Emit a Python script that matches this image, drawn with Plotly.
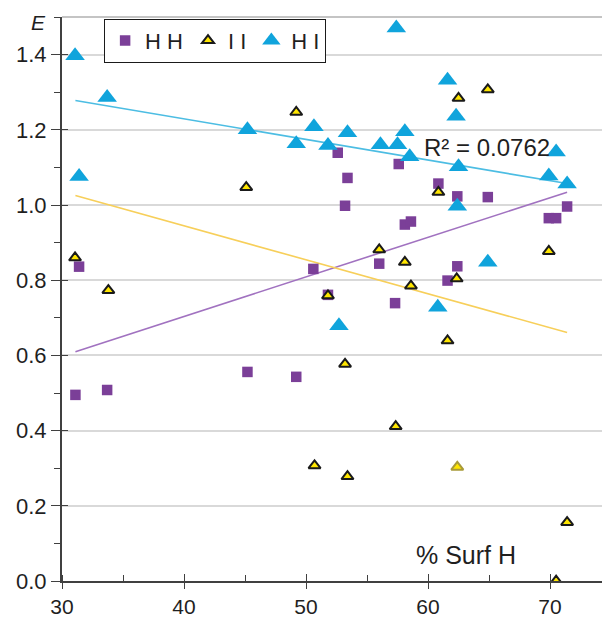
import plotly.graph_objects as go

# ---- data ----
hh_x = [31.1, 31.4, 33.7, 45.2, 49.2, 50.6, 51.8, 52.6, 53.4, 53.2, 56.0, 57.3,
        57.6, 58.1, 58.6, 60.85, 61.6, 62.4, 62.4, 64.9, 69.9, 70.5, 71.4]
hh_y = [0.495, 0.836, 0.508, 0.556, 0.543, 0.830, 0.761, 1.139, 1.072, 0.998, 0.844, 0.739,
        1.109, 0.948, 0.956, 1.057, 0.799, 1.023, 0.837, 1.021, 0.965, 0.965, 0.996]

ii_x = [31.07, 33.8, 45.1, 49.2, 50.7, 51.8, 53.2, 53.4, 56.0, 57.35, 58.1, 58.6,
        60.85, 61.6, 62.35, 62.5, 62.4, 64.9, 69.9, 70.5, 71.4]
ii_y = [0.860, 0.773, 1.047, 1.247, 0.307, 0.759, 0.577, 0.278, 0.881, 0.411, 0.848, 0.785,
        1.034, 0.639, 0.804, 1.284, 0.303, 1.307, 0.877, 0.0, 0.156]

hi_x = [31.07, 31.4, 33.7, 45.2, 49.2, 50.65, 51.8, 53.4, 52.7, 56.1, 57.4, 57.5,
        58.1, 58.5, 60.8, 61.6, 62.3, 62.5, 62.4, 64.9, 69.9, 70.5, 71.4]
hi_y = [1.397, 1.076, 1.286, 1.200, 1.163, 1.208, 1.158, 1.192, 0.679, 1.160, 1.471, 1.160,
        1.195, 1.128, 0.728, 1.332, 1.236, 1.102, 0.997, 0.848, 1.077, 1.141, 1.056]

# linear trend lines as drawn in the reference (value at first and last x)
trend_x = [31.1, 71.4]
hh_trend = [0.610, 1.034]
ii_trend = [1.025, 0.661]
hi_trend = [1.278, 1.057]

series_names = ["H H", "I I", "H I"]
r2_text = "R² = 0.0762"
x_ticks = [30, 40, 50, 60, 70]
y_ticks = [0.0, 0.2, 0.4, 0.6, 0.8, 1.0, 1.2, 1.4]

# ---- styles ----
FONT = "Liberation Sans, Arial, sans-serif"
C_HH = "#7b3f98"
C_II = "#ffe600"
C_HI = "#10a4dc"
L_HH = "#a172c0"
L_II = "#f7cf5a"
L_HI = "#4cbde3"
AXIS = "#404040"
TXT = "#1f1f1f"
ii_outline = ["#1a1a1a"] * len(ii_x)
ii_outline[16] = "#a89a3a"

fig = go.Figure()

for ty, col in [(hh_trend, L_HH), (ii_trend, L_II), (hi_trend, L_HI)]:
    fig.add_trace(go.Scatter(x=trend_x, y=ty, mode="lines", line=dict(color=col, width=1.6),
                             showlegend=False, hoverinfo="skip"))

fig.add_trace(go.Scatter(x=hh_x, y=hh_y, mode="markers", name=series_names[0],
                         marker=dict(symbol="square", size=10.5, color=C_HH,
                                     line=dict(width=0))))
fig.add_trace(go.Scatter(x=ii_x, y=ii_y, mode="markers", name=series_names[1],
                         marker=dict(symbol="triangle-up", size=10.5, color=C_II,
                                     line=dict(width=2, color=ii_outline))))
fig.add_trace(go.Scatter(x=hi_x, y=hi_y, mode="markers", name=series_names[2],
                         marker=dict(symbol="triangle-up", size=17, color=C_HI,
                                     line=dict(width=0))))
# invisible trace to activate overlay axes used for crossing ticks
fig.add_trace(go.Scatter(x=[None], y=[None], xaxis="x2", yaxis="y2", showlegend=False,
                         hoverinfo="skip"))

XR = [30, 74.26]
YR = [0, 1.5]

fig.update_layout(
    width=602, height=619,
    margin=dict(l=62, r=0, t=17, b=38, autoexpand=False),
    paper_bgcolor="white", plot_bgcolor="white",
    font=dict(family=FONT, color=TXT, size=22),
    showlegend=True,
    legend=dict(orientation="h", x=0.078, y=0.997, xanchor="left", yanchor="top",
                bgcolor="white", bordercolor="#1a1a1a", borderwidth=1,
                font=dict(family=FONT, size=22, color=TXT),
                itemsizing="trace", tracegroupgap=0),
    xaxis=dict(range=XR, tickvals=x_ticks, ticktext=[str(v) for v in x_ticks],
               ticks="outside", ticklen=6, tickwidth=1, tickcolor=AXIS,
               showline=True, linecolor=AXIS, linewidth=2, showgrid=False, zeroline=False,
               minor=dict(ticks="inside", dtick=5, tick0=30, ticklen=6, tickcolor=AXIS,
                          tickwidth=1, showgrid=False),
               automargin=False,
               tickfont=dict(size=21, family=FONT, color=TXT), fixedrange=True),
    yaxis=dict(range=YR, tickvals=y_ticks, ticktext=[f"{v:.1f}" for v in y_ticks],
               ticks="outside", ticklen=9, tickwidth=1, tickcolor=AXIS,
               showline=True, linecolor=AXIS, linewidth=2,
               showgrid=True, gridcolor="#d9d9d9", gridwidth=1.5, zeroline=False,
               minor=dict(ticks="outside", dtick=0.1, tick0=0, ticklen=6, tickcolor=AXIS,
                          tickwidth=1, showgrid=False),
               automargin=False,
               tickfont=dict(size=22, family=FONT, color=TXT), fixedrange=True),
    xaxis2=dict(range=XR, overlaying="x", tickvals=x_ticks, ticks="inside", ticklen=7,
                tickcolor=AXIS, tickwidth=1, showticklabels=False, showgrid=False,
                showline=False, zeroline=False, fixedrange=True, automargin=False),
    yaxis2=dict(range=YR, overlaying="y", tickvals=y_ticks, ticks="inside", ticklen=6,
                tickcolor=AXIS, tickwidth=1, showticklabels=False, showgrid=False,
                showline=False, zeroline=False, fixedrange=True, automargin=False),
    shapes=[dict(type="line", xref="paper", yref="paper", x0=0, x1=1, y0=1, y1=1,
                 line=dict(color="#b0b0b0", width=1.5), layer="below")],
    annotations=[
        dict(text=r2_text, x=59.5, y=1.152, xref="x", yref="y", xanchor="left",
             yanchor="middle", showarrow=False,
             font=dict(family=FONT, size=24, color=TXT)),
        dict(text="<i>E</i>", x=-0.044, y=0.99, xref="paper", yref="paper",
             xanchor="center", yanchor="middle", showarrow=False,
             font=dict(family=FONT, size=21, color=TXT)),
        dict(text="% Surf H", x=0.748, y=0.046, xref="paper", yref="paper",
             xanchor="center", yanchor="middle", showarrow=False,
             font=dict(family=FONT, size=25, color=TXT)),
    ],
)

fig.write_html("out.html", config={"displayModeBar": False},
               post_script="document.body.style.margin='0';document.body.style.overflow='hidden';")
